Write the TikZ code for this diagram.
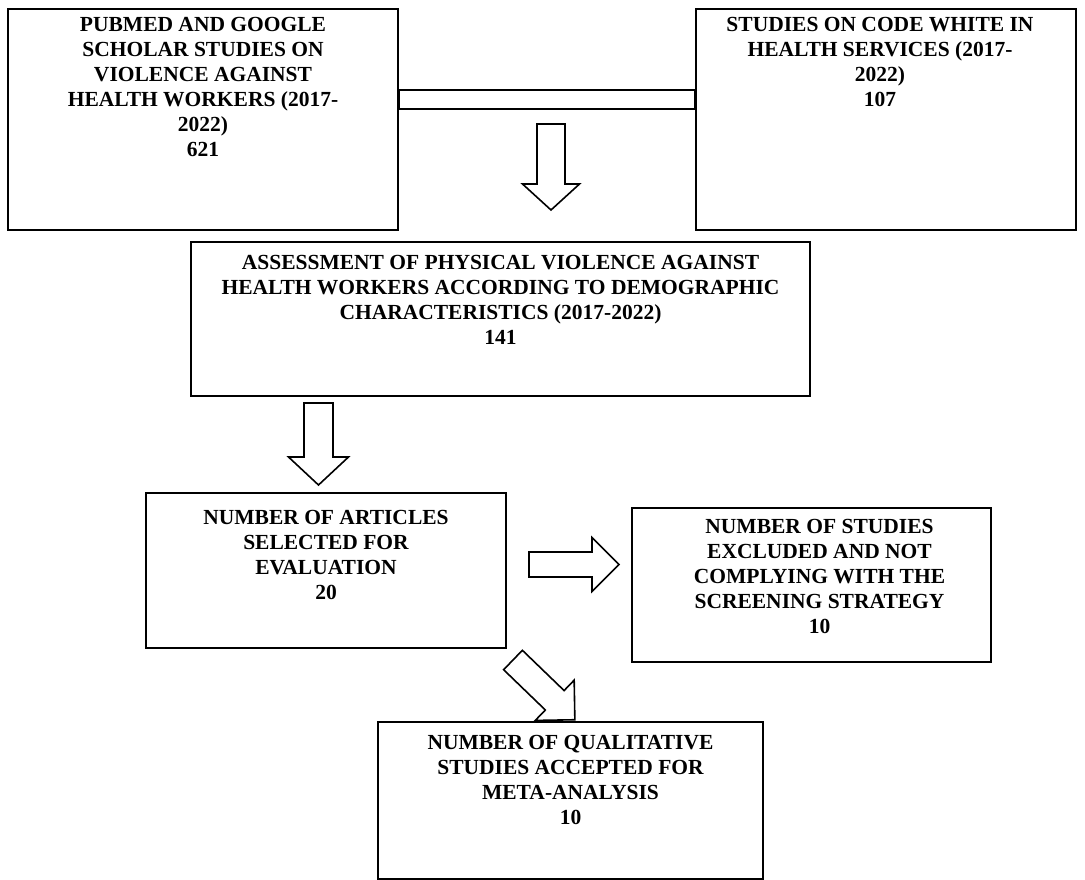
\documentclass[tikz,border=0pt]{standalone}
\usepackage{fontspec}
\setmainfont{Liberation Serif}
\usetikzlibrary{calc}
\newcommand{\blockarrow}[6]{\draw[blockline,shift={#1},rotate=#2] (0,#5)--(#3-#4,#5)--(#3-#4,#6)--(#3,0)--(#3-#4,-#6)--(#3-#4,-#5)--(0,-#5)--cycle;}
\begin{document}
\begin{tikzpicture}[x=1pt,y=-1pt,
  frame/.style={draw,line width=1.7pt,inner sep=0pt},
  caption/.style={font=\fontsize{21.5}{25}\selectfont\bfseries,align=center,anchor=north,inner sep=0pt},
  blockline/.style={draw,line width=1.6pt,line join=miter,fill=white}]
\useasboundingbox (0,0) rectangle (1085,880);
\node[frame,minimum width=390pt,minimum height=221pt] (pubmed) at (203,119.5) {};
\node[frame,minimum width=380pt,minimum height=221pt] (codewhite) at (886,119.5) {};
\node[frame,minimum width=619pt,minimum height=154pt] (assess) at (500.5,319) {};
\node[frame,minimum width=360pt,minimum height=155pt] (selected) at (326,570.5) {};
\node[frame,minimum width=359pt,minimum height=154pt] (excluded) at (811.5,585) {};
\node[frame,minimum width=385pt,minimum height=157pt] (accepted) at (570.5,800.5) {};
\draw[frame] ($(pubmed.north east)+(0,82)$) rectangle ($(codewhite.north west)+(0,101)$);
\node[caption] (pubmedtxt) at ($(pubmed.north)+(0,9)$) {PUBMED AND GOOGLE\\SCHOLAR STUDIES ON\\VIOLENCE AGAINST\\HEALTH WORKERS (2017-\\2022)\\621};
\node[caption] (codewhitetxt) at ($(codewhite.north)+(-6,9)$) {STUDIES ON CODE WHITE IN\\HEALTH SERVICES (2017-\\2022)\\107};
\node[caption] (assesstxt) at ($(assess.north)+(0,14)$) {ASSESSMENT OF PHYSICAL VIOLENCE AGAINST\\HEALTH WORKERS ACCORDING TO DEMOGRAPHIC\\CHARACTERISTICS (2017-2022)\\141};
\node[caption] (selectedtxt) at ($(selected.north)+(0,18)$) {NUMBER OF ARTICLES\\SELECTED FOR\\EVALUATION\\20};
\node[caption] (excludedtxt) at ($(excluded.north)+(8,12)$) {NUMBER OF STUDIES\\EXCLUDED AND NOT\\COMPLYING WITH THE\\SCREENING STRATEGY\\10};
\node[caption] (acceptedtxt) at ($(accepted.north)+(0,14)$) {NUMBER OF QUALITATIVE\\STUDIES ACCEPTED FOR\\META-ANALYSIS\\10};
\blockarrow{(551,124)}{-90}{86}{26}{14}{28.5}
\blockarrow{(318.5,403)}{-90}{82}{28}{14.5}{30}
\blockarrow{(529,564.5)}{0}{90}{27}{12.5}{27}
\blockarrow{(513,660)}{-44}{86}{28}{13.5}{28}
\end{tikzpicture}
\end{document}
